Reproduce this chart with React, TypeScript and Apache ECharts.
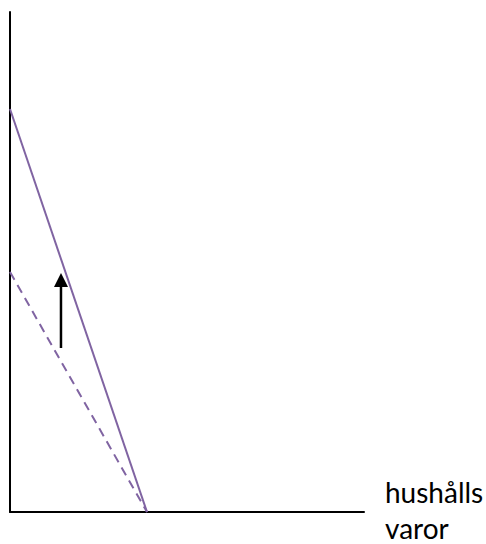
import React, { useEffect, useRef } from "react";
import * as echarts from "echarts";

// Budget line data (x: hushållsvaror, y: other goods) in axis units 0..100
const solidLineX = [0, 38.7];
const solidLineY = [80.6, 0];
const dashedLineX = [0, 38.7];
const dashedLineY = [48, 0];
// Arrow showing the shift of the budget line
const arrowX = [14.4, 14.4];
const arrowY = [32.8, 47.8];
const axisLabelLines = ["hushålls", "varor"];

export default function App() {
  const ref = useRef<HTMLDivElement>(null);
  useEffect(() => {
    document.body.style.margin = "0";
    const chart = echarts.init(ref.current!, null, { renderer: "svg" });
    const purple = "#8064A2";
    chart.setOption({
      animation: false,
      grid: { left: 10, top: 12, right: 122, bottom: 32 },
      xAxis: {
        type: "value",
        min: 0,
        max: 100,
        axisLine: { show: true, lineStyle: { color: "#000", width: 2 } },
        axisTick: { show: false },
        axisLabel: { show: false },
        splitLine: { show: false },
      },
      yAxis: {
        type: "value",
        min: 0,
        max: 100,
        axisLine: { show: true, lineStyle: { color: "#000", width: 2 } },
        axisTick: { show: false },
        axisLabel: { show: false },
        splitLine: { show: false },
      },
      series: [
        {
          type: "line",
          data: solidLineX.map((x, i) => [x, solidLineY[i]]),
          showSymbol: false,
          symbol: "none",
          lineStyle: { color: purple, width: 2 },
          z: 3,
        },
        {
          type: "line",
          data: dashedLineX.map((x, i) => [x, dashedLineY[i]]),
          showSymbol: false,
          symbol: "none",
          lineStyle: { color: purple, width: 2, type: [9, 6] },
          z: 3,
        },
        {
          type: "custom",
          data: [[arrowX[0], arrowY[0], arrowX[1], arrowY[1]]],
          renderItem: (params: any, api: any) => {
            const p0 = api.coord([api.value(0), api.value(1)]);
            const p1 = api.coord([api.value(2), api.value(3)]);
            const headLen = 14;
            const headHalf = 7;
            return {
              type: "group",
              children: [
                {
                  type: "line",
                  shape: { x1: p0[0], y1: p0[1], x2: p1[0], y2: p1[1] + headLen },
                  style: { stroke: "#000", lineWidth: 2.5 },
                },
                {
                  type: "polygon",
                  shape: {
                    points: [
                      [p1[0], p1[1]],
                      [p1[0] - headHalf, p1[1] + headLen],
                      [p1[0] + headHalf, p1[1] + headLen],
                    ],
                  },
                  style: { fill: "#000" },
                },
              ],
            };
          },
          z: 4,
        },
      ],
      graphic: axisLabelLines.map((line, i) => ({
        type: "text",
        left: 385,
        top: 478 + i * 36,
        style: {
          text: line,
          font: "28px Lato",
          lineHeight: 26,
          fill: "#000",
        },
      })),
    });
    return () => chart.dispose();
  }, []);
  return <div ref={ref} style={{ width: 486, height: 544 }} />;
}
